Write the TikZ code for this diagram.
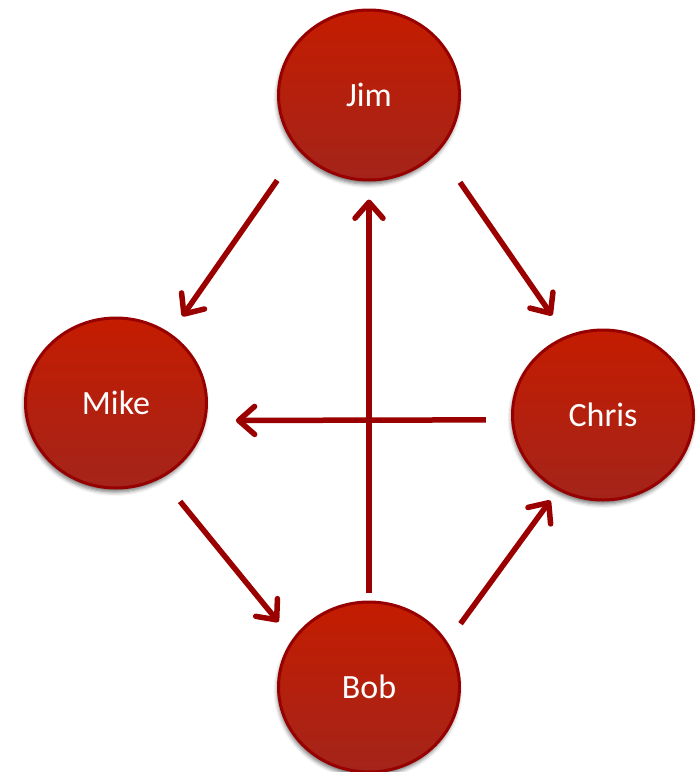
\documentclass[tikz,border=0pt]{standalone}
\usepackage{fontspec}
\setmainfont{Carlito}
\usetikzlibrary{arrows.meta,shapes.geometric,shadows.blur}
\definecolor{nodetop}{RGB}{196,28,0}
\definecolor{nodebottom}{RGB}{164,36,26}
\definecolor{noderim}{RGB}{150,0,0}
\definecolor{arrowred}{RGB}{155,0,0}
\begin{document}
\begin{tikzpicture}[x=1pt, y=-1pt,
  person/.style={ellipse, minimum width=181pt, minimum height=170pt, inner sep=0pt,
    draw=noderim, line width=3pt, top color=nodetop, bottom color=nodebottom,
    blur shadow={shadow xshift=-1pt, shadow yshift=-4pt, shadow opacity=55, shadow blur radius=4pt},
    text=white, font=\fontsize{34}{40}\selectfont},
  link/.style={arrowred, line width=5.5pt, -{Straight Barb[length=16pt, width=28pt, round]}}]
\useasboundingbox (0,0) rectangle (700,772);
\node[person] (jim) at (369,95) {Jim};
\node[person] (mike) at (116,403) {Mike};
\node[person] (chris) at (603,415) {Chris};
\node[person] (bob) at (369,687) {Bob};
\draw[link, shorten <=36.7pt, shorten >=20.7pt] (jim.218.8) -- (mike.52.5);
\draw[link, shorten <=37.5pt, shorten >=24.6pt] (jim.321.3) -- (chris.115.5);
\draw[link, shorten <=25.2pt, shorten >=29.8pt] (chris.183.1) -- (mike.349.2);
\draw[link, shorten <=8pt, shorten >=18pt] (bob.90) -- (jim.270);
\draw[link, shorten <=29.8pt, shorten >=22.1pt] (mike.301.6) -- (bob.148.8);
\draw[link, shorten <=22.3pt, shorten >=12.6pt] (bob.30.7) -- (chris.239.9);
\end{tikzpicture}
\end{document}
